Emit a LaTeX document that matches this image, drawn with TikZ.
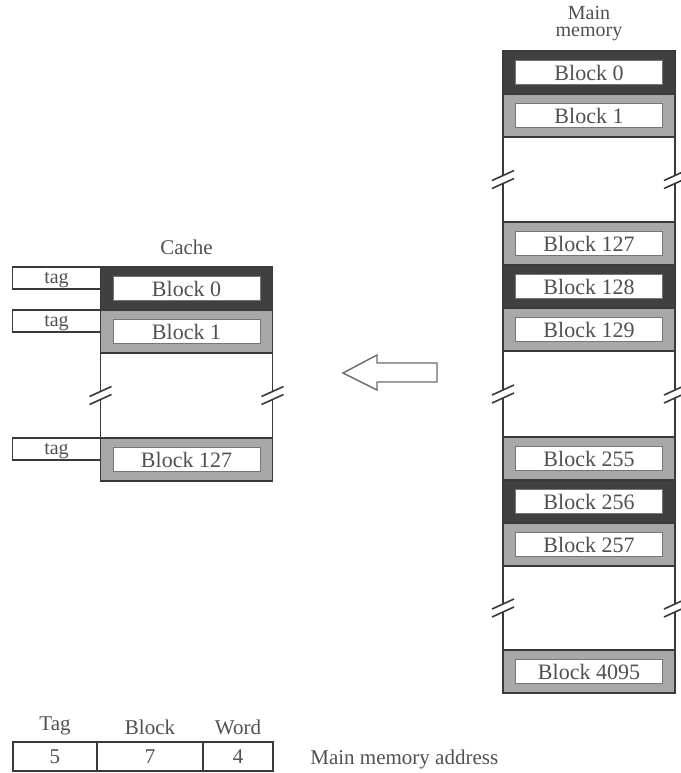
\documentclass[tikz,border=0pt]{standalone}
\usepackage{fontspec}
\setmainfont{Liberation Serif}
\usetikzlibrary{positioning,calc}
\usepackage{xcolor}
\definecolor{ink}{HTML}{3A3A3A}
\definecolor{dkfill}{HTML}{404040}
\definecolor{ltfill}{HTML}{A8A8A8}
\definecolor{txt}{HTML}{505050}

\tikzset{
  pics/brk/.style={code={
    \fill[white] (-5.5pt,-4.5pt) -- (5.5pt,0.5pt) -- (5.5pt,4.5pt) -- (-5.5pt,-0.5pt) -- cycle;
    \draw[ink,line width=0.8pt] (-5.5pt,-4.5pt) -- (5.5pt,0.5pt) (-5.5pt,-0.5pt) -- (5.5pt,4.5pt);}}
}

\begin{document}
\begin{tikzpicture}[x=0.5pt,y=-0.5pt,
      row/.style={draw=ink,line width=0.8pt,minimum width=86pt,minimum height=21.5pt,
                  inner sep=0pt,outer sep=0pt},
      dkrow/.style={row,fill=dkfill},
      ltrow/.style={row,fill=ltfill},
      cell/.style={fill=white,draw=ltfill!70!black,line width=0.3pt,minimum width=73.5pt,
                   minimum height=12pt,inner sep=0pt,text=txt,font=\fontsize{11}{13}\selectfont},
      tagbox/.style={draw=ink,line width=0.6pt,minimum width=44pt,minimum height=11pt,inner sep=0pt,
                     outer sep=0pt,anchor=north east,text=txt,text height=6pt,text depth=1pt,
                     font=\fontsize{10}{12}\selectfont},
      addr/.style={draw=ink,line width=1pt,minimum height=14.5pt,inner sep=0pt,outer sep=0pt,
                   text=txt,font=\fontsize{10.5}{12}\selectfont},
      lbl/.style={text=txt,inner sep=1pt,font=\fontsize{10.5}{12}\selectfont},
      edge/.style={draw=ink,line width=0.8pt}]

    \useasboundingbox (0,0) rectangle (681,773);

    % main memory
    \node[dkrow] (mb0) at (589,72.5) {};
    \node[cell] (mb0l) at (mb0) {Block 0};
    \node[ltrow,below=0pt of mb0] (mb1) {};
    \node[cell] (mb1l) at (mb1) {Block 1};
    \node[ltrow,below=42.5pt of mb1] (mb127) {};
    \node[cell] (mb127l) at (mb127) {Block 127};
    \node[dkrow,below=0pt of mb127] (mb128) {};
    \node[cell] (mb128l) at (mb128) {Block 128};
    \node[ltrow,below=0pt of mb128] (mb129) {};
    \node[cell] (mb129l) at (mb129) {Block 129};
    \node[ltrow,below=43pt of mb129] (mb255) {};
    \node[cell] (mb255l) at (mb255) {Block 255};
    \node[dkrow,below=0pt of mb255] (mb256) {};
    \node[cell] (mb256l) at (mb256) {Block 256};
    \node[ltrow,below=0pt of mb256] (mb257) {};
    \node[cell] (mb257l) at (mb257) {Block 257};
    \node[ltrow,below=42pt of mb257] (mb4095) {};
    \node[cell] (mb4095l) at (mb4095) {Block 4095};

    \node[lbl,align=center,above=4pt of mb0,font=\fontsize{10}{8.5}\selectfont] (mmhd) {Main\\memory};

    \draw[edge] (mb1.south west) -- (mb127.north west) (mb1.south east) -- (mb127.north east);
    \draw[edge] (mb129.south west) -- (mb255.north west) (mb129.south east) -- (mb255.north east);
    \draw[edge] (mb257.south west) -- (mb4095.north west) (mb257.south east) -- (mb4095.north east);
    \pic at ($(mb1.south west)!0.5!(mb127.north west)$) {brk};
    \pic at ($(mb1.south east)!0.5!(mb127.north east)$) {brk};
    \pic at ($(mb129.south west)!0.5!(mb255.north west)$) {brk};
    \pic at ($(mb129.south east)!0.5!(mb255.north east)$) {brk};
    \pic at ($(mb257.south west)!0.5!(mb4095.north west)$) {brk};
    \pic at ($(mb257.south east)!0.5!(mb4095.north east)$) {brk};

    % cache
    \node[dkrow] (cb0) at (186.5,288.5) {};
    \node[cell] (cb0l) at (cb0) {Block 0};
    \node[ltrow,below=0pt of cb0] (cb1) {};
    \node[cell] (cb1l) at (cb1) {Block 1};
    \node[ltrow,below=42.5pt of cb1] (cb127) {};
    \node[cell] (cb127l) at (cb127) {Block 127};

    \node[lbl,above=5pt of cb0] (chd) {Cache};

    \draw[edge] (cb1.south west) -- (cb127.north west) (cb1.south east) -- (cb127.north east);
    \pic at ($(cb1.south west)!0.5!(cb127.north west)$) {brk};
    \pic at ($(cb1.south east)!0.5!(cb127.north east)$) {brk};

    \node[tagbox] (tg0) at (cb0.north west) {tag};
    \node[tagbox] (tg1) at (cb1.north west) {tag};
    \node[tagbox] (tg127) at (cb127.north west) {tag};

    % mapping arrow
    \draw[ink!75,line width=0.7pt] (343,373) -- (377,355) -- (377,363) -- (437,363)
      -- (437,382) -- (377,382) -- (377,390) -- cycle;

    % address fields
    \node[addr,minimum width=42pt] (af1) at (55,756.5) {5};
    \node[addr,minimum width=53pt,right=0pt of af1] (af2) {7};
    \node[addr,minimum width=35pt,right=0pt of af2] (af3) {4};
    \node[lbl,above=2.5pt of af1] (ftag) {Tag};
    \node[lbl,above=2.5pt of af2] (fblk) {Block};
    \node[lbl,above=2.5pt of af3] (fwrd) {Word};
    \node[lbl,anchor=west] (mma) at (308,759) {Main memory address};
  \end{tikzpicture}
\end{document}
